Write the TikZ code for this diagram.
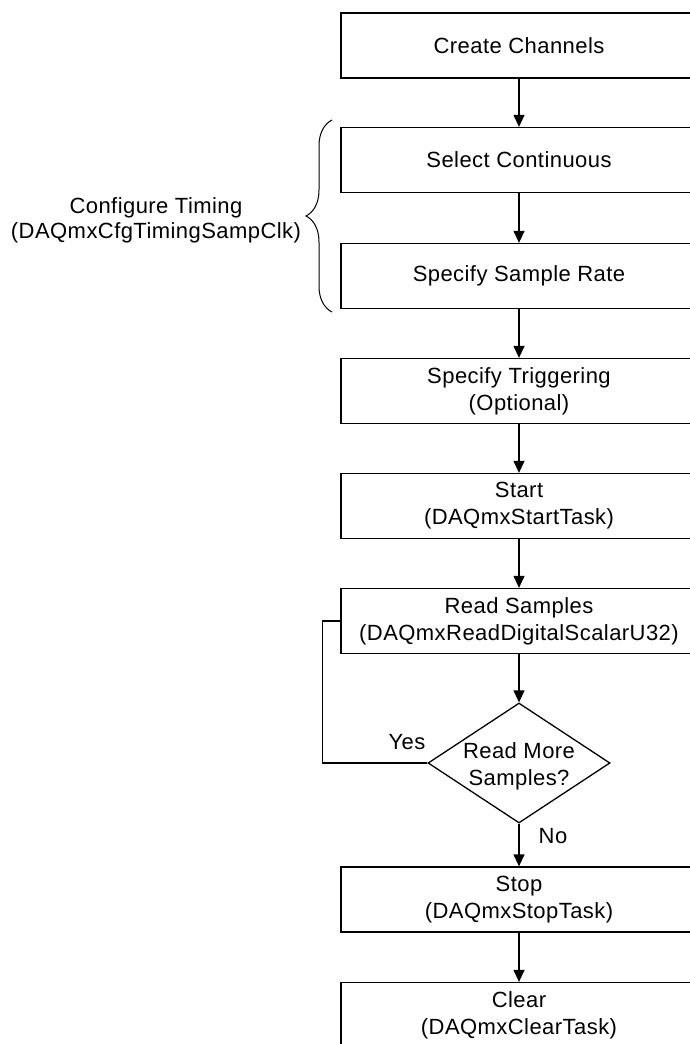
\documentclass[tikz,border=0pt]{standalone}
\usepackage{fontspec}
\setmainfont[LetterSpace=2]{Liberation Sans}
\usetikzlibrary{arrows.meta,shapes.geometric,decorations.pathreplacing}
\begin{document}
\begin{tikzpicture}[x=1pt,y=1pt,
  txt/.style={font=\fontsize{22}{27}\selectfont, align=center, inner sep=0pt},
  proc/.style={txt, draw, line width=1.3pt, minimum width=356, minimum height=65},
  dia/.style={diamond, draw, line width=1.3pt, minimum width=182, minimum height=120, inner sep=0pt},
  flow/.style={line width=1.3pt, -{Triangle[width=11pt,length=12pt]}},
  link/.style={line width=1.3pt}
]
\useasboundingbox (0,0) rectangle (690,-1044);

\node[proc] (create) at (519,-45.5) {Create Channels};
\node[proc] (select) at (519,-160) {Select Continuous};
\node[proc] (rate)   at (519,-276) {Specify Sample Rate};
\node[proc] (trig)   at (519,-391) {Specify Triggering\\(Optional)};
\node[proc] (start)  at (519,-506) {Start\\(DAQmxStartTask)};
\node[proc] (read)   at (519,-621) {Read Samples\\(DAQmxReadDigitalScalarU32)};
\node[dia]  (dec)    at (519,-763) {};
\node[txt]  (dect)   at (519,-766) {Read More\\Samples?};
\node[proc] (stop)   at (519,-899.5) {Stop\\(DAQmxStopTask)};
\node[proc] (clear)  at (519,-1015) {Clear\\(DAQmxClearTask)};

\draw[flow] (create) -- (select);
\draw[flow] (select) -- (rate);
\draw[flow] (rate) -- (trig);
\draw[flow] (trig) -- (start);
\draw[flow] (start) -- (read);
\draw[flow] (read) -- (dec.north);
\draw[flow] (dec.south) -- (stop);
\draw[flow] (stop) -- (clear);
\draw[link] (dec.west) -- ++(-105,0) coordinate (lc) |- (read.west);

\node[txt] (yes) at (407,-742) {Yes};
\node[txt] (no)  at (553,-836) {No};

\coordinate (bb) at (332,-312);
\coordinate (bt) at (332,-120);
\draw[line width=1pt, decorate, decoration={brace, amplitude=26pt}] (bb) -- (bt);
\node[txt, font=\fontsize{22}{25}\selectfont] (cfg) at (156,-220) {Configure Timing\\(DAQmxCfgTimingSampClk)};
\end{tikzpicture}
\end{document}
